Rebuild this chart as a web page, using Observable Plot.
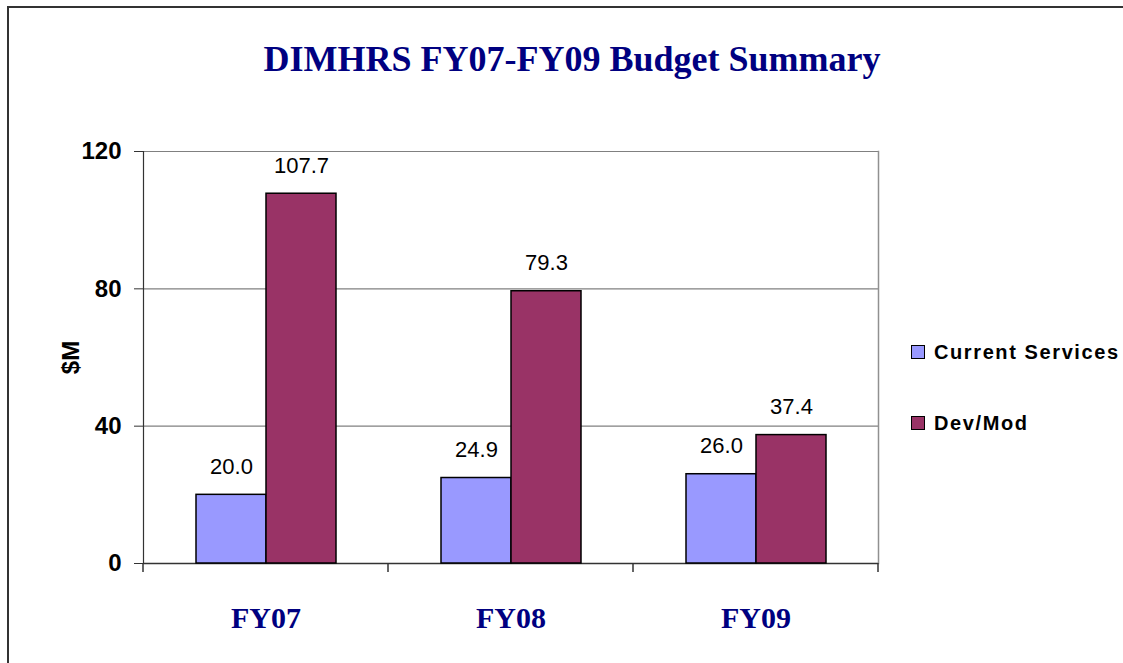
<!DOCTYPE html>
<html>
<head>
<meta charset="utf-8">
<script src="https://cdn.jsdelivr.net/npm/d3@7"></script>
<script src="https://cdn.jsdelivr.net/npm/@observablehq/plot@0.6"></script>
<style>
  html, body { margin: 0; padding: 0; background: #fff; overflow: hidden; }
  #page { position: relative; width: 100%; height: 663px; overflow: hidden; }
  #borderTop { position: absolute; left: 7px; top: 6px; right: -50px; height: 0;
            border-top: 2px solid #333; }
  #borderLeft { position: absolute; left: 7px; top: 6px; width: 0; bottom: -50px;
            border-left: 2px solid #333; }
  #header { position: relative; height: 110px; }
  #title { position: absolute; left: 0; width: 1144px; top: 41px; text-align: center;
           font-family: "Liberation Serif", "Times New Roman", serif; font-weight: bold;
           font-size: 36px; line-height: 36px; color: #000080; }
  #chart { position: relative; }
  .legend-item { position: absolute; left: 911px; height: 20px; display: flex; align-items: center;
                 font-family: "Liberation Sans", Arial, sans-serif; font-weight: bold; font-size: 20px;
                 letter-spacing: 1.6px; color: #000; white-space: nowrap; }
  .swatch { width: 12px; height: 12px; border: 1.5px solid #000; margin-right: 9px; }
</style>
</head>
<body>
<div id="page">
  <div id="borderTop"></div>
  <div id="borderLeft"></div>
  <div id="header"><div id="title">DIMHRS FY07-FY09 Budget Summary</div></div>
  <div id="chart"></div>
  <div id="legend"></div>
</div>
<script>
const years = ["FY07", "FY08", "FY09"];
const series = ["Current Services", "Dev/Mod"];
const currentServices = [20.0, 24.9, 26.0];
const devMod = [107.7, 79.3, 37.4];
const yTicks = [0, 40, 80, 120];
const seriesColors = ["#9999FF", "#993366"];

const data = years.flatMap((year, i) => [
  {year, series: series[0], value: currentServices[i]},
  {year, series: series[1], value: devMod[i]}
]);

const sans = "'Liberation Sans', Arial, sans-serif";
const serif = "'Liberation Serif', 'Times New Roman', serif";

const chart = Plot.plot({
  width: 1100,
  height: 553,
  marginLeft: 142,
  marginRight: 222,
  marginTop: 41,
  marginBottom: 100,
  style: {background: "transparent", overflow: "visible"},
  fx: {domain: years, padding: 0, label: null},
  x: {domain: series, paddingInner: 0, paddingOuter: 0.727, axis: null},
  y: {domain: [0, 120], ticks: yTicks},
  color: {domain: series, range: seriesColors},
  marks: [
    Plot.gridY(yTicks, {stroke: "#808080", strokeOpacity: 1, strokeWidth: 1.2}),
    Plot.frame({anchor: "right", facetAnchor: "right", stroke: "#909090", strokeWidth: 1.5}),
    Plot.frame({anchor: "left", facetAnchor: "left", stroke: "#333", strokeWidth: 1.2}),
    Plot.ruleY([0], {stroke: "#333", strokeWidth: 1.5}),
    Plot.barY(data, {fx: "year", x: "series", y: "value", fill: "series", stroke: "#000", strokeWidth: 1.5}),
    Plot.text(data, {fx: "year", x: "series", y: "value", text: d => d.value.toFixed(1),
      dy: -28, fontSize: 22, fontFamily: sans, fill: "#000", letterSpacing: 1}),
    Plot.axisY(yTicks, {tickSize: 9, tickPadding: 13, fontSize: 24, fontWeight: "bold", fontFamily: sans,
      stroke: "#333", fill: "#000", label: "$M", labelAnchor: "center", labelOffset: 82, labelArrow: "none"}),
    Plot.axisFx({anchor: "bottom", tickSize: 0, tickPadding: 43, fontSize: 30, fontWeight: "bold", fontFamily: serif,
      fill: "#000080", label: null})
  ]
});
document.getElementById("chart").appendChild(chart);

// category boundary tick marks, positioned from Plot's own fx and y scales
const fxs = chart.scale("fx");
const ys = chart.scale("y");
const bounds = years.map(y => fxs.apply(y)).concat([fxs.apply(years[years.length - 1]) + fxs.bandwidth]);
const y0 = ys.apply(0);
d3.select(chart).append("g").selectAll("line").data(bounds).join("line")
  .attr("x1", d => d).attr("x2", d => d)
  .attr("y1", y0).attr("y2", y0 + 9)
  .attr("stroke", "#333").attr("stroke-width", 1.5);

// legend
const legendTops = [342, 413];
const legend = document.getElementById("legend");
series.forEach((s, i) => {
  const item = document.createElement("div");
  item.className = "legend-item";
  item.style.top = legendTops[i] + "px";
  const sw = document.createElement("div");
  sw.className = "swatch";
  sw.style.background = seriesColors[i];
  item.appendChild(sw);
  item.appendChild(document.createTextNode(s));
  legend.appendChild(item);
});
</script>
</body>
</html>
